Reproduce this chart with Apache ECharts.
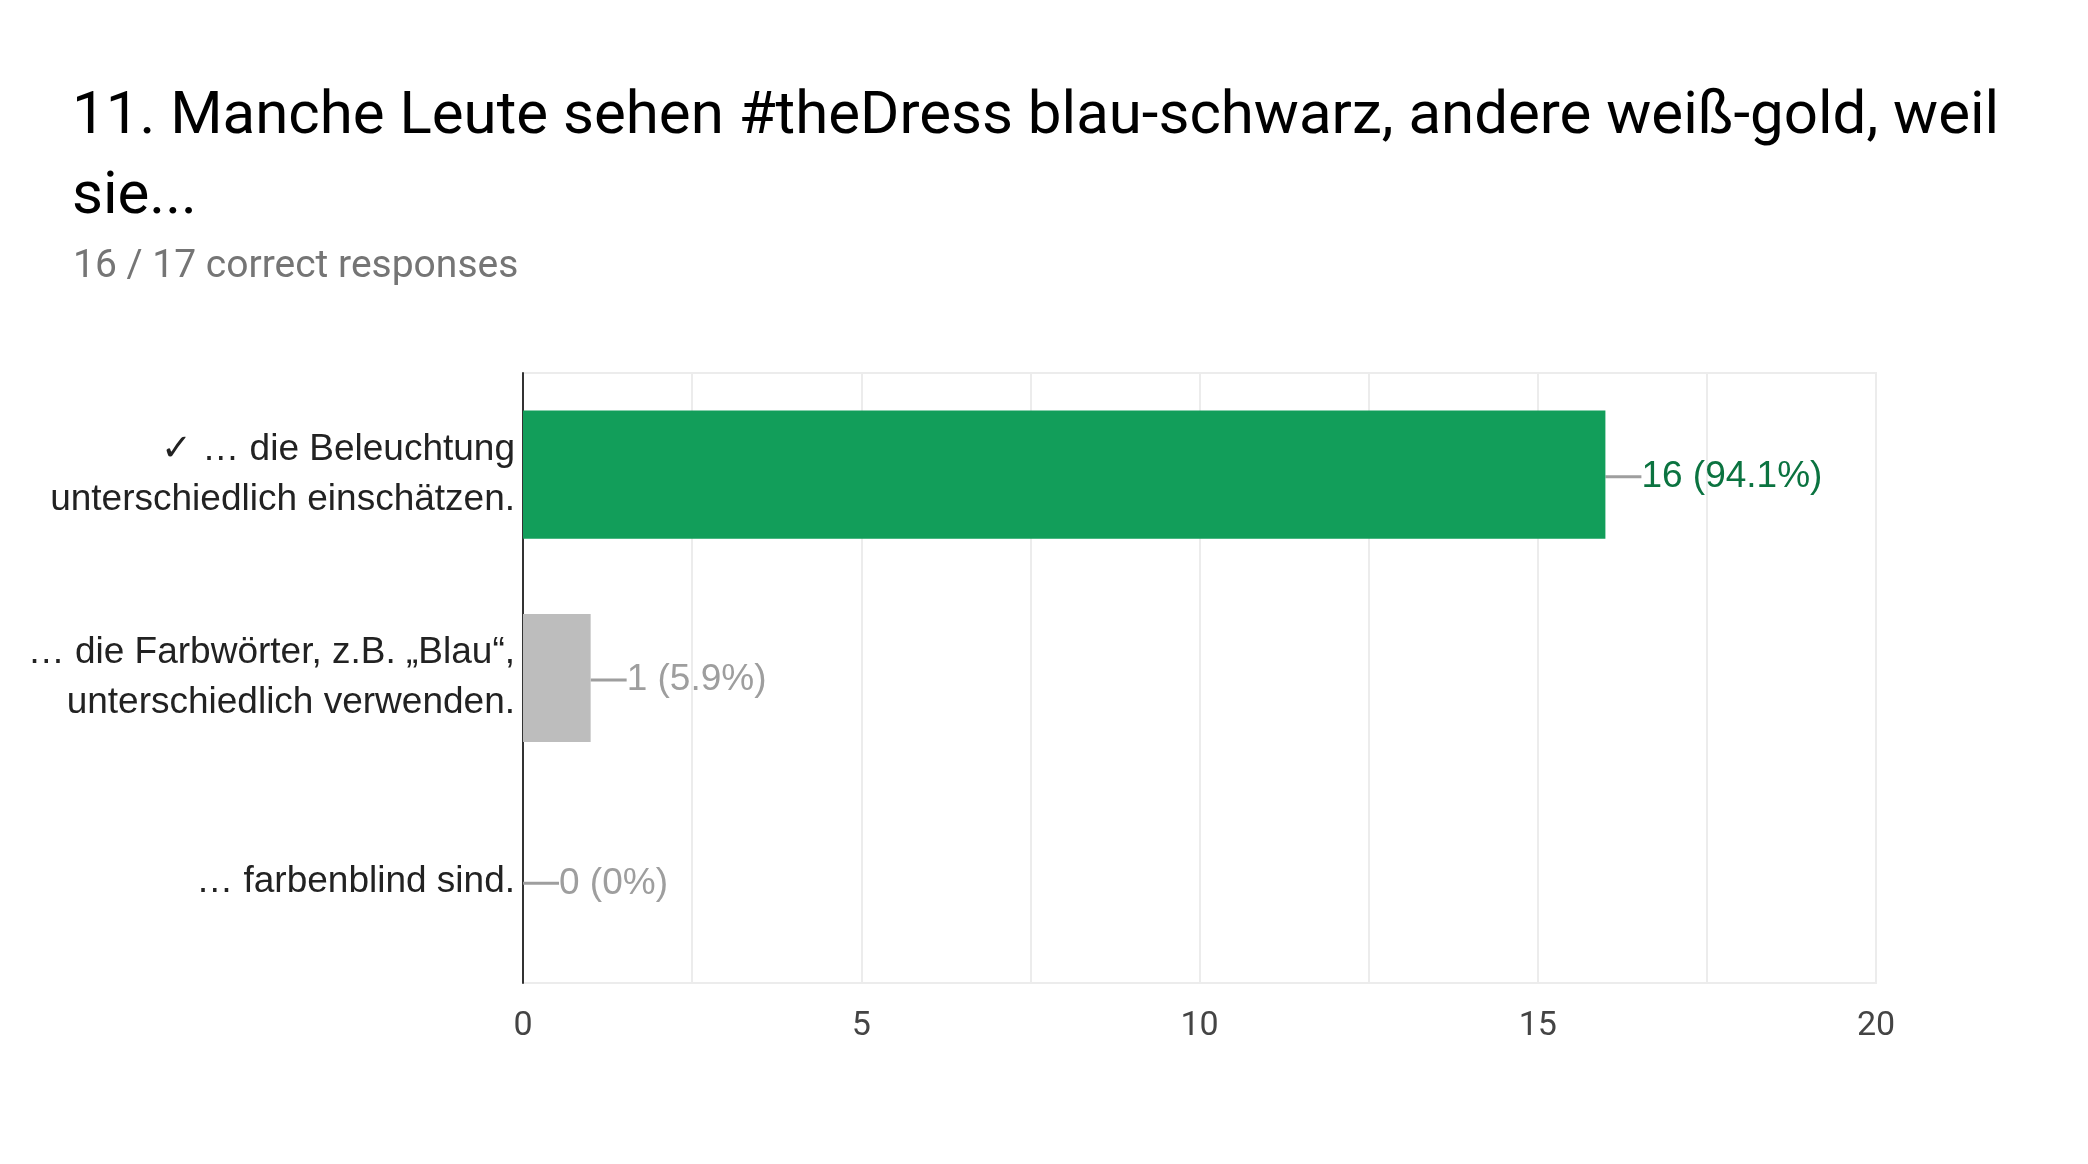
<!DOCTYPE html>
<html>
<head>
<meta charset="utf-8">
<script src="https://cdn.jsdelivr.net/npm/echarts@6/dist/echarts.min.js"></script>
<style>
  html, body { margin: 0; padding: 0; background: #fff; }
  #chart { width: 2088px; height: 1164px; }
</style>
</head>
<body>
<div id="chart"></div>
<script>
// Antworten und Zahlen
const categories = [
    '✓ … die Beleuchtung\nunterschiedlich einschätzen.',
    '… die Farbwörter, z.B. „Blau“,\nunterschiedlich verwenden.',
    '… farbenblind sind.'
];
const counts = [16, 1, 0];
const percents = ['94.1%', '5.9%', '0%'];
const correct = [true, false, false];
const xTicks = [0, 5, 10, 15, 20];

const greenBar = '#129e5a';
const greyBar = '#bdbdbd';

var myChart = echarts.init(document.getElementById('chart'));

let barData = counts.map(function (v, i) {
    return {
        value: v,
        itemStyle: { color: correct[i] ? greenBar : greyBar },
        label: { color: correct[i] ? '#0b7340' : '#9e9e9e' }
    };
});

option = {
    backgroundColor: '#ffffff',
    animation: false,
    title: [
        {
            text: '11. Manche Leute sehen #theDress blau-schwarz, andere weiß-gold, weil\nsie...',
            left: 72,
            top: 78,
            padding: 0,
            textStyle: {
                fontFamily: 'Roboto',
                fontSize: 60,
                fontWeight: 'normal',
                color: '#000000',
                lineHeight: 80
            }
        },
        {
            text: '16 / 17 correct responses',
            left: 73,
            top: 248,
            padding: 0,
            textStyle: {
                fontFamily: 'Roboto',
                fontSize: 39,
                fontWeight: 'normal',
                color: '#757575',
                lineHeight: 39
            }
        }
    ],
    grid: {
        left: 523,
        right: 2088 - 1876,
        top: 373,
        bottom: 1164 - 983,
        show: true,
        borderColor: '#ececec',
        borderWidth: 2
    },
    xAxis: {
        type: 'value',
        min: 0,
        max: 20,
        interval: 2.5,
        axisLine: { show: false },
        axisTick: { show: false },
        splitLine: { show: true, lineStyle: { color: '#ececec', width: 2 } },
        axisLabel: {
            margin: 26,
            fontFamily: 'Roboto',
            fontSize: 34,
            color: '#444444',
            formatter: function (value) {
                return xTicks.indexOf(value) >= 0 ? String(value) : '';
            }
        }
    },
    yAxis: {
        type: 'category',
        data: categories,
        inverse: true,
        axisLine: { show: true, lineStyle: { color: '#333333', width: 2 } },
        axisTick: { show: false },
        splitLine: { show: false },
        axisLabel: {
            margin: 8,
            align: 'right',
            padding: [8, 0, 0, 0],
            fontFamily: 'Liberation Sans',
            fontSize: 37,
            lineHeight: 50,
            color: '#222222'
        }
    },
    series: [
        {
            type: 'bar',
            data: barData,
            barWidth: '63%',
            label: {
                show: true,
                position: 'right',
                distance: 0,
                fontFamily: 'Liberation Sans',
                fontSize: 37,
                formatter: function (p) {
                    return counts[p.dataIndex] + ' (' + percents[p.dataIndex] + ')';
                }
            },
            labelLayout: { dx: 36, dy: 2 },
            labelLine: {
                show: true,
                lineStyle: { color: '#9e9e9e', width: 3 }
            }
        }
    ]
};
myChart.setOption(option);
</script>
</body>
</html>
